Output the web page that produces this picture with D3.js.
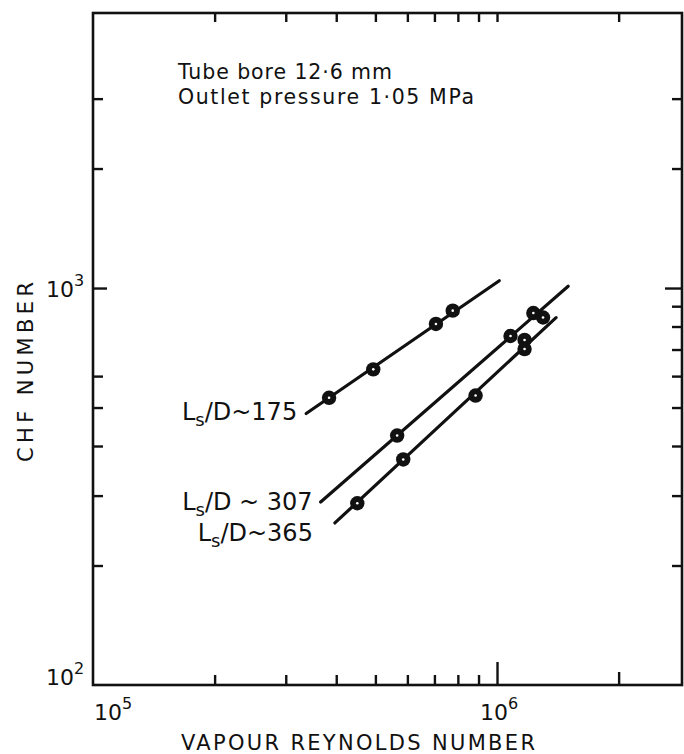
<!DOCTYPE html>
<html>
<head>
<meta charset="utf-8">
<script src="https://cdn.jsdelivr.net/npm/d3@7"></script>
<style>
  html, body { margin: 0; padding: 0; background: #fff; }
  svg { display: block; }
  text { font-family: "DejaVu Sans", sans-serif; fill: #111; }
</style>
</head>
<body>
<svg id="chart" width="684" height="754"></svg>
<script>
// ---- data ----
const seriesNames = ["175", "307", "365"];
const re175  = [3.84e5, 4.94e5, 7.06e5, 7.77e5];
const chf175 = [529, 624, 812, 877];
const re307  = [5.66e5, 1.08e6, 1.23e6, 1.30e6];
const chf307 = [425, 757, 865, 843];
const re365  = [4.51e5, 5.86e5, 8.85e5, 1.17e6, 1.17e6];
const chf365 = [287, 370, 536, 740, 702];
// fitted straight lines (start, end)
const fitRe175  = [3.37e5, 1.013e6];
const fitChf175 = [483, 1043];
const fitRe307  = [3.66e5, 1.50e6];
const fitChf307 = [289, 1010];
const fitRe365  = [3.97e5, 1.40e6];
const fitChf365 = [256, 842];

const xDomain = [1e5, 2.87e6];
const yDomain = [100, 4930];
const xMinorTicks = [2e5, 3e5, 4e5, 5e5, 6e5, 7e5, 8e5, 9e5];
const xMidTicks = [2e6];
const xMajorTicks = [1e6];
const yRightMinor = [200, 300, 400, 500, 600, 700, 800, 900, 2000, 3000];
const yLeftMinor  = [200, 300, 400, 500, 600, 2000, 3000];
const yMajorTicks = [1000];
const xTickLabels = [{v: 1e5, base: "10", exp: "5"}, {v: 1e6, base: "10", exp: "6"}];
const yTickLabels = [{v: 100, base: "10", exp: "2"}, {v: 1000, base: "10", exp: "3"}];
const annotation = ["Tube bore  12·6 mm", "Outlet pressure  1·05 MPa"];
const xTitle = "VAPOUR  REYNOLDS  NUMBER";
const yTitle = "CHF  NUMBER";

// ---- layout ----
const L = 93, R = 682, T = 13, B = 685;
const svg = d3.select("#chart");
const x = d3.scaleLog().domain(xDomain).range([L, R]);
const y = d3.scaleLog().domain(yDomain).range([B, T]);

const ink = "#111";

// frame
svg.append("rect").attr("x", L).attr("y", T).attr("width", R - L).attr("height", B - T)
  .attr("fill", "none").attr("stroke", ink).attr("stroke-width", 2.6);

// ticks via d3 axes (inward)
function styleAxis(g) {
  g.select(".domain").remove();
  g.selectAll("line").attr("stroke", ink).attr("stroke-width", 2.4);
  g.selectAll("text").remove();
}
svg.append("g").attr("transform", `translate(0,${B})`)
  .call(d3.axisTop(x).tickValues(xMinorTicks).tickSize(10)).call(styleAxis);
svg.append("g").attr("transform", `translate(0,${B})`)
  .call(d3.axisTop(x).tickValues(xMidTicks).tickSize(13)).call(styleAxis);
svg.append("g").attr("transform", `translate(0,${B})`)
  .call(d3.axisTop(x).tickValues(xMajorTicks).tickSize(23)).call(styleAxis);
svg.append("g").attr("transform", `translate(0,${T})`)
  .call(d3.axisBottom(x).tickValues(xMinorTicks.concat(xMidTicks, xMajorTicks)).tickSize(9)).call(styleAxis);
svg.append("g").attr("transform", `translate(${R},0)`)
  .call(d3.axisLeft(y).tickValues(yRightMinor).tickSize(10)).call(styleAxis);
svg.append("g").attr("transform", `translate(${R},0)`)
  .call(d3.axisLeft(y).tickValues(yMajorTicks).tickSize(17)).call(styleAxis);
svg.append("g").attr("transform", `translate(${L},0)`)
  .call(d3.axisRight(y).tickValues(yLeftMinor).tickSize(10)).call(styleAxis);
svg.append("g").attr("transform", `translate(${L},0)`)
  .call(d3.axisRight(y).tickValues(yMajorTicks).tickSize(14)).call(styleAxis);

// tick labels with superscripts
xTickLabels.forEach((d, i) => {
  const t = svg.append("text")
    .attr("x", i === 0 ? x(d.v) + 1 : x(d.v) - 17)
    .attr("y", B + 35)
    .attr("font-size", 22);
  t.append("tspan").text(d.base);
  t.append("tspan").attr("dy", -11).attr("font-size", 16).text(d.exp);
});
yTickLabels.forEach((d, i) => {
  const t = svg.append("text")
    .attr("x", L - 47)
    .attr("y", y(d.v) + (i === 0 ? 0 : 9))
    .attr("font-size", 22);
  t.append("tspan").text(d.base);
  t.append("tspan").attr("dy", -11).attr("font-size", 16).text(d.exp);
});

// axis titles
svg.append("text").attr("x", 358).attr("y", 750)
  .attr("text-anchor", "middle").attr("font-size", 21)
  .attr("textLength", 354).attr("lengthAdjust", "spacing").text(xTitle);
svg.append("text").attr("transform", `translate(33,372) rotate(-90)`)
  .attr("text-anchor", "middle").attr("font-size", 21)
  .attr("textLength", 180).attr("lengthAdjust", "spacing").text(yTitle);

// annotation
svg.append("text").attr("x", 178).attr("y", 79).attr("font-size", 20.5)
  .attr("textLength", 214).attr("lengthAdjust", "spacing").text(annotation[0]);
svg.append("text").attr("x", 178).attr("y", 104).attr("font-size", 20.5)
  .attr("textLength", 296).attr("lengthAdjust", "spacing").text(annotation[1]);

// fitted lines
const fits = [
  {re: fitRe175, chf: fitChf175},
  {re: fitRe307, chf: fitChf307},
  {re: fitRe365, chf: fitChf365}
];
fits.forEach(f => {
  svg.append("line")
    .attr("x1", x(f.re[0])).attr("y1", y(f.chf[0]))
    .attr("x2", x(f.re[1])).attr("y2", y(f.chf[1]))
    .attr("stroke", ink).attr("stroke-width", 3.2).attr("stroke-linecap", "round");
});

// points
const pts = [];
[[re175, chf175], [re307, chf307], [re365, chf365]].forEach(([r, c]) =>
  r.forEach((v, i) => pts.push({re: v, chf: c[i]})));
svg.append("g").selectAll("circle.p").data(pts).join("circle")
  .attr("cx", d => x(d.re)).attr("cy", d => y(d.chf)).attr("r", 7.2)
  .attr("fill", ink);
svg.append("g").selectAll("circle.c").data(pts).join("circle")
  .attr("cx", d => x(d.re)).attr("cy", d => y(d.chf)).attr("r", 1.3)
  .attr("fill", "#fff");

// series labels  (L with subscript s)
const labelOffsets = [
  {dx: -9, dy: 7, gap: "", tl: 115},
  {dx: -8, dy: 8, gap: " ", tl: 132},
  {dx: -22, dy: 18, gap: "", tl: 123}
];
fits.forEach((f, i) => {
  const o = labelOffsets[i];
  const t = svg.append("text")
    .attr("x", x(f.re[0]) + o.dx)
    .attr("y", y(f.chf[0]) + o.dy)
    .attr("text-anchor", "end").attr("font-size", 24);
  t.append("tspan").text("L");
  t.append("tspan").attr("dy", 6).attr("font-size", 18).text("s");
  t.append("tspan").attr("dy", -6).text("/D" + o.gap + "~" + o.gap + seriesNames[i]);
});
</script>
</body>
</html>
